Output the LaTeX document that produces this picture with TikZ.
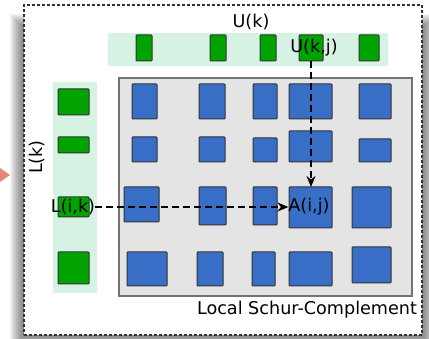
\documentclass[tikz,border=0pt]{standalone}
\usepackage{fontspec}
\setmainfont{DejaVu Sans}
\usetikzlibrary{arrows.meta}
\definecolor{bandgreen}{HTML}{D6F2E2}
\definecolor{blockgreen}{HTML}{00A300}
\definecolor{blockblue}{HTML}{386EC6}
\definecolor{schurgray}{HTML}{E4E4E4}
\definecolor{arrowred}{HTML}{E8847A}
\newcommand\myblock[6]{\node[#1, minimum width={#5-#3}, minimum height={#6-#4}] (#2) at ({(#3+#5)/2},{(#4+#6)/2}) {};}
\begin{document}
\begin{tikzpicture}[x=1pt,y=-1pt,
  every node/.style={inner sep=0pt, outer sep=0pt},
  gblock/.style={draw=black!80, fill=blockgreen, line width=1pt, rounded corners=0.8pt},
  bblock/.style={draw=black!80, fill=blockblue, line width=1pt, rounded corners=0.8pt},
  band/.style={fill=bandgreen, draw=none},
  schurbox/.style={fill=schurgray, draw=black!55, line width=1.2pt},
  framebox/.style={fill=white, draw=black!80, line width=1.4pt, dash pattern=on 3pt off 2pt},
  lbl/.style={font=\fontsize{17.6}{20}\selectfont, text=black},
  dasharrow/.style={line width=2.4pt, dash pattern=on 7pt off 4pt, -{Stealth[length=11pt,width=9pt,inset=3.5pt]}}
]
\useasboundingbox (0,0) rectangle (429,339);
% shadow
\foreach \d in {0,...,14}{
  \fill[black, opacity=0.045] ({24-\d},{28-\d}) rectangle ({422+\d},{335+\d});
}
% stray red arrowhead at the left
\fill[arrowred] (0,168) -- (10,175) -- (0,182) -- cycle;
% frame
\myblock{framebox}{frame}{24}{5}{422}{335}
% bands and Schur box
\myblock{band}{uband}{108}{33}{388}{66}
\myblock{band}{lband}{53}{82}{97}{293}
\myblock{schurbox}{schur}{119}{78}{412}{296}
% U(k) blocks
\myblock{gblock}{u1}{136}{35}{152}{61}
\myblock{gblock}{u2}{210}{35}{226}{61}
\myblock{gblock}{u3}{260}{35}{276}{61}
\myblock{gblock}{u4}{299}{35}{323}{61}
\myblock{gblock}{u5}{359}{35}{379}{61}
% L(k) blocks
\myblock{gblock}{l1}{58}{89}{89}{115}
\myblock{gblock}{l2}{58}{137}{89}{153}
\myblock{gblock}{l3}{58}{197}{89}{217}
\myblock{gblock}{l4}{58}{252}{89}{284}
% blue blocks row 1
\myblock{bblock}{b11}{132}{84}{157}{119}
\myblock{bblock}{b12}{199}{84}{225}{119}
\myblock{bblock}{b13}{253}{84}{277}{119}
\myblock{bblock}{b14}{289}{84}{332}{119}
\myblock{bblock}{b15}{359}{84}{391}{119}
% row 2
\myblock{bblock}{b21}{132}{137}{157}{162}
\myblock{bblock}{b22}{199}{137}{225}{162}
\myblock{bblock}{b23}{253}{138}{277}{162}
\myblock{bblock}{b24}{289}{131}{332}{162}
\myblock{bblock}{b25}{359}{139}{391}{162}
% row 3
\myblock{bblock}{b31}{124}{187}{159}{222}
\myblock{bblock}{b32}{199}{187}{226}{225}
\myblock{bblock}{b33}{253}{187}{277}{225}
\myblock{bblock}{b34}{289}{187}{332}{228}
\myblock{bblock}{b35}{352}{187}{391}{228}
% row 4
\myblock{bblock}{b41}{127}{252}{167}{286}
\myblock{bblock}{b42}{197}{252}{223}{286}
\myblock{bblock}{b43}{252}{252}{275}{286}
\myblock{bblock}{b44}{289}{252}{332}{286}
\myblock{bblock}{b45}{352}{247}{391}{283}
% labels
\node[lbl] (Uk) at (251,22) {U(k)};
\node[lbl] (Ukj) at (314,48) {U(k,j)};
\node[lbl] (Aij) at (309,207) {A(i,j)};
\node[lbl] (Lik) at (73,207) {L(i,k)};
\node[lbl, rotate=90] (Lk) at (37,157) {L(k)};
\node[lbl] (lsc) at (307,310) {Local Schur-Complement};
% arrows
\draw[dasharrow] (u4.south) -- (u4.south |- b34.north);
\draw[dasharrow] (Lik.east) -- (Aij.west);
\end{tikzpicture}
\end{document}
